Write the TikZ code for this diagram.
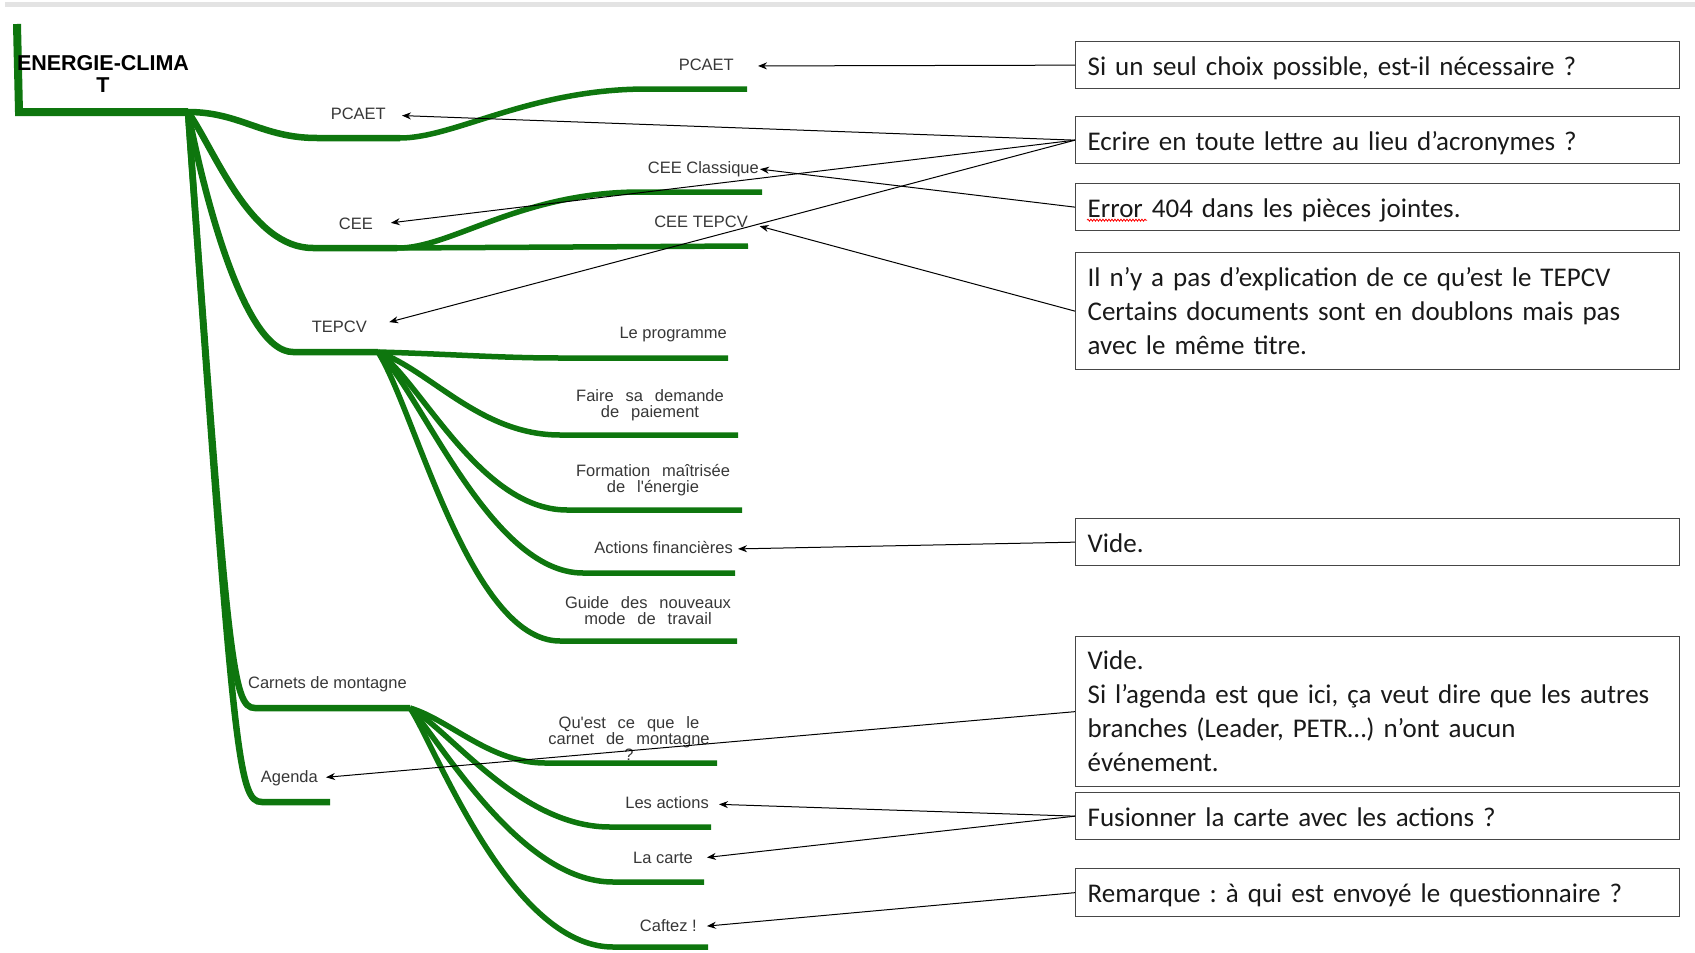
\documentclass[tikz,border=0pt]{standalone}
\usepackage{fontspec}
\setmainfont{Carlito}
\newfontfamily\arialfont[Ligatures=TeXOff]{Liberation Sans}
\usetikzlibrary{arrows.meta,calc,decorations.pathmorphing}
\definecolor{mapgreen}{RGB}{14,118,14}
\definecolor{lblgray}{RGB}{55,55,55}
\definecolor{boxgray}{RGB}{70,70,70}
\newcommand{\wsp}{\hspace{0.72em}}
\frenchspacing
\begin{document}
\begin{tikzpicture}[x=1pt, y=-1pt,
  trunk/.style={draw=mapgreen, line width=8pt},
  limb/.style={draw=mapgreen, line width=6.5pt},
  twig/.style={draw=mapgreen, line width=5.5pt},
  lbl/.style={font=\arialfont\fontsize{16.5}{16}\selectfont, text=lblgray, align=center, inner sep=0pt, text height=12pt, text depth=3pt},
  note/.style={draw=boxgray, line width=1.3pt, anchor=north west, text width=580pt, inner xsep=12pt, inner ysep=0pt, align=left, font=\fontsize{27}{34}\selectfont, text=black!90},
  oneline/.style={note, minimum height=47pt, text height=21pt, text depth=1pt},
  remark/.style={-{Stealth[length=9pt,width=7pt]}, line width=1pt}]
  \useasboundingbox (0,0) rectangle (1695,953);
  \fill[gray!22] (5,2) rectangle (1695,7);

  \coordinate (hub) at (188,112);
  \draw[trunk] (17,24) -- (19,112) -- (hub);
  \node[font=\arialfont\bfseries\fontsize{21.5}{22}\selectfont, align=center, inner sep=0pt] (title) at (103,74) {ENERGIE-CLIMA\\T};

  \draw[limb] (hub) .. controls (240,112) and (262,138) .. (317,138) -- (400,138) coordinate (pcaet-j);
  \draw[limb] (hub) .. controls (215,150) and (250,248) .. (313,248) -- (397,248) coordinate (cee-j);
  \draw[limb] (hub) .. controls (205,200) and (245,352) .. (293,352) -- (378,352) coordinate (tepcv-j);
  \draw[limb] (hub) .. controls (228,660) and (232,708) .. (255,708) -- (410,708) coordinate (carnets-j);
  \draw[limb] (hub) .. controls (234,760) and (238,802) .. (262,802) -- (330,802);

  \draw[twig] (pcaet-j) .. controls (455,138) and (530,89) .. (647,89) -- (747,89);
  \draw[twig] (cee-j) .. controls (450,249) and (520,192) .. (640,192) -- (762,192);
  \draw[twig] (cee-j) -- (748,246);
  \draw[twig] (tepcv-j) .. controls (450,354) and (500,358) .. (560,358) -- (728,358);
  \draw[twig] (tepcv-j) .. controls (430,370) and (480,435) .. (560,435) -- (738,435);
  \draw[twig] (tepcv-j) .. controls (420,380) and (480,510) .. (567,510) -- (742,510);
  \draw[twig] (tepcv-j) .. controls (420,390) and (490,573) .. (583,573) -- (735,573);
  \draw[twig] (tepcv-j) .. controls (415,410) and (470,641) .. (560,641) -- (737,641);
  \draw[twig] (carnets-j) .. controls (450,720) and (490,763) .. (545,763) -- (717,763);
  \draw[twig] (carnets-j) .. controls (450,730) and (520,827) .. (610,827) -- (711,827);
  \draw[twig] (carnets-j) .. controls (440,740) and (520,882) .. (613,882) -- (704,882);
  \draw[twig] (carnets-j) .. controls (435,745) and (510,947) .. (613,947) -- (708,947);

  \node[lbl, anchor=east] (pcaet) at (386,115) {PCAET};
  \node[lbl, anchor=east] (pcaetsub) at (734,66) {PCAET};
  \node[lbl, anchor=east] (cee) at (373,225) {CEE};
  \node[lbl, anchor=east] (ceeclass) at (759,169) {CEE Classique};
  \node[lbl, anchor=east] (ceetepcv) at (748,223) {CEE TEPCV};
  \node[lbl, anchor=east] (tepcv) at (367,328) {TEPCV};
  \node[lbl, anchor=east] (prog) at (727,334) {Le programme};
  \node[lbl] (demande) at (650,413) {Faire\wsp sa\wsp demande\\de\wsp paiement};
  \node[lbl] (formation) at (653,488) {Formation\wsp maîtrisée\\de\wsp l'énergie};
  \node[lbl, anchor=east] (actions) at (733,549) {Actions financières};
  \node[lbl] (guide) at (648,620) {Guide\wsp des\wsp nouveaux\\mode\wsp de\wsp travail};
  \node[lbl, anchor=east] (carnets) at (407,684) {Carnets de montagne};
  \node[lbl, anchor=east] (agenda) at (318,778) {Agenda};
  \node[lbl] (quest) at (629,756) {Qu'est\wsp ce\wsp que\wsp le\\carnet\wsp de\wsp montagne\\?};
  \node[lbl, anchor=east] (lesactions) at (709,804) {Les actions};
  \node[lbl, anchor=east] (carte) at (693,859) {La carte};
  \node[lbl, anchor=east] (caftez) at (697,927) {Caftez !};

  \node[oneline] (c1) at (1075,41) {Si un seul choix possible, est-il nécessaire ?};
  \node[oneline] (c2) at (1075,116) {Ecrire en toute lettre au lieu d’acronymes ?};
  \node[oneline] (c3) at (1075,183) {Error 404 dans les pièces jointes.};
  \node[note, minimum height=117pt] (c4) at (1075,252) {Il n’y a pas d’explication de ce qu’est le TEPCV\\Certains documents sont en doublons mais pas\\avec le même titre.};
  \node[oneline] (c5) at (1075,518) {Vide.};
  \node[note, minimum height=150pt] (c6) at (1075,636) {Vide.\\Si l’agenda est que ici, ça veut dire que les autres\\branches (Leader, PETR…) n’ont aucun\\événement.};
  \node[oneline] (c7) at (1075,792) {Fusionner la carte avec les actions ?};
  \node[oneline, minimum height=48pt] (c8) at (1075,868) {Remarque : à qui est envoyé le questionnaire ?};
  \draw[red, line width=0.8pt, decorate, decoration={snake, amplitude=1pt, segment length=3pt}] ($(c3.west)+(12,13)$) -- ++(60,0);

  \draw[remark, shorten >=24pt] (c1.west) -- (pcaetsub.east);
  \draw[remark, shorten >=16pt] (c2.west) -- (pcaet.east);
  \draw[remark, shorten >=18pt] (c2.west) -- (cee.east);
  \draw[remark, shorten >=23pt] (c2.west) -- (tepcv.east);
  \draw[remark, shorten >=1pt] (c3.west) -- (ceeclass.east);
  \draw[remark, shorten >=12pt] (c4.west) -- (ceetepcv.east);
  \draw[remark, shorten >=5pt] (c5.west) -- (actions.east);
  \draw[remark, shorten >=8pt] (c6.west) -- (agenda.east);
  \draw[remark, shorten >=10pt] (c7.west) -- (lesactions.east);
  \draw[remark, shorten >=14pt] (c7.west) -- (carte.east);
  \draw[remark, shorten >=10pt] (c8.west) -- (caftez.east);
\end{tikzpicture}
\end{document}
